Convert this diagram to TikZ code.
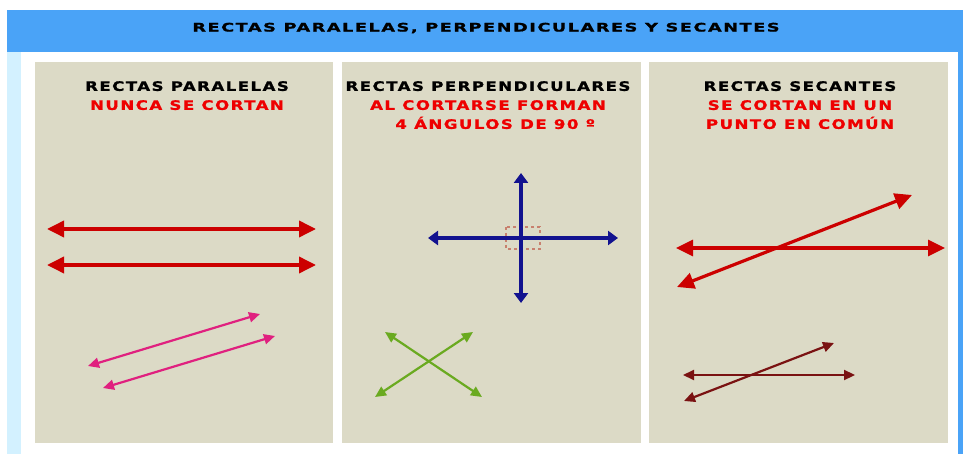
\documentclass[tikz,border=0pt]{standalone}
\usepackage{fontspec}
\setmainfont{DejaVu Sans}
\newfontfamily\headfont{DejaVu Sans Bold}[FakeStretch=1.28, LetterSpace=11, FakeBold=1.2]
\newfontfamily\titlefont{DejaVu Sans Bold}[FakeStretch=1.5, LetterSpace=13, FakeBold=1.2]
\usetikzlibrary{arrows.meta}

\definecolor{bandblue}{HTML}{4AA3F7}
\definecolor{stripblue}{HTML}{D3F1FF}
\definecolor{panelgray}{HTML}{DCDAC6}
\definecolor{textred}{HTML}{EE0000}
\definecolor{linered}{HTML}{CC0000}
\definecolor{linepink}{HTML}{E0207F}
\definecolor{lineblue}{HTML}{12128F}
\definecolor{linegreen}{HTML}{6AAA20}
\definecolor{linemaroon}{HTML}{7A1212}
\definecolor{markred}{HTML}{C8806E}

\tikzset{
  panel/.style={fill=panelgray, draw=none},
  heading/.style={font=\headfont\fontsize{13}{19}\selectfont, align=center, inner sep=0pt},
  bigline/.style={line width=3.6pt, {Triangle[length=17pt,width=16pt]}-{Triangle[length=17pt,width=16pt]}},
  thinline/.style={line width=2.2pt, {Triangle[length=11pt,width=10pt]}-{Triangle[length=11pt,width=10pt]}},
}

\begin{document}
\begin{tikzpicture}[x=1pt,y=-1pt]
    \useasboundingbox (0,0) rectangle (963,454);
    \fill[white] (0,0) rectangle (963,454);

    % Header band
    \fill[bandblue] (7,10) rectangle (963,52);
    \fill[stripblue] (7,52) rectangle (21,454);
    \fill[bandblue] (958,52) rectangle (963,454);
    \node[font=\titlefont\fontsize{11.8}{13}\selectfont, inner sep=0pt] (title) at (486,28) {RECTAS PARALELAS, PERPENDICULARES Y SECANTES};

    % Panels
    \fill[panel] (35,62) rectangle (333,443);
    \fill[panel] (342,62) rectangle (641,443);
    \fill[panel] (649,62) rectangle (948,443);

    % Headings
    \node[heading, anchor=north] (paralelas) at (187,81)
        {RECTAS PARALELAS\\\textcolor{textred}{NUNCA SE CORTAN}};
    \node[heading, anchor=north] (perpendiculares) at (488,81)
        {RECTAS PERPENDICULARES\\\textcolor{textred}{AL CORTARSE FORMAN}\\\textcolor{textred}{\ \ 4 ÁNGULOS DE 90 º}};
    \node[heading, anchor=north] (secantes) at (800,81)
        {RECTAS SECANTES\\\textcolor{textred}{SE CORTAN EN UN}\\\textcolor{textred}{PUNTO EN COMÚN}};

    % Parallel lines
    \draw[bigline, linered] (47,229) -- (316,229);
    \draw[bigline, linered] (47,265) -- (316,265);
    \draw[thinline, linepink] (88,366) -- (260,314);
    \draw[thinline, linepink] (103,388) -- (275,336);

    % Perpendicular lines
    \draw[dashed, markred, line width=1.2pt] (506,227) rectangle (540,249);
    \draw[lineblue, line width=3.2pt, {Triangle[length=10pt,width=14pt]}-{Triangle[length=10pt,width=14pt]}] (521,173) -- (521,303);
    \draw[lineblue, line width=3.2pt, {Triangle[length=10pt,width=14pt]}-{Triangle[length=10pt,width=14pt]}] (428,238) -- (618,238);
    \draw[thinline, linegreen] (385,332) -- (482,397);
    \draw[thinline, linegreen] (375,397) -- (473,332);

    % Secant lines
    \draw[bigline, linered, line width=3.2pt] (676,248) -- (945,248);
    \draw[bigline, linered, line width=3.2pt] (677,287) -- (912,195);
    \draw[thinline, linemaroon] (683,375) -- (855,375);
    \draw[thinline, linemaroon] (684,401) -- (834,343);

\end{tikzpicture}
\end{document}
